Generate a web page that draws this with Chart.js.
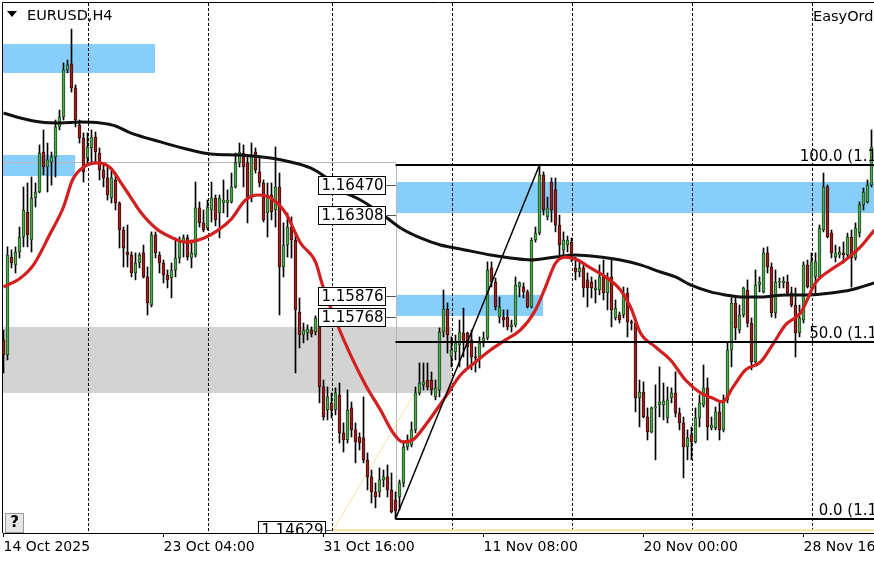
<!DOCTYPE html>
<html>
<head>
<meta charset="utf-8">
<script src="https://cdn.jsdelivr.net/npm/chart.js@4.4.1/dist/chart.umd.min.js"></script>
<style>
  html, body { margin: 0; padding: 0; background: #fff; overflow: hidden; }
  canvas { display: block; }
</style>
</head>
<body>
<canvas id="chart" width="874" height="562"></canvas>
<script>
// EURUSD H4 candles (one value per bar, left to right)
const opens = [
  1.15644, 1.15564, 1.16086, 1.16044, 1.16113, 1.16193, 1.16326, 1.16177, 1.16401, 1.16433,
  1.16646, 1.16566, 1.16593, 1.16620, 1.16780, 1.16833, 1.17084, 1.17116, 1.16988, 1.16790,
  1.16721, 1.16614, 1.16668, 1.16726, 1.16641, 1.16550, 1.16508, 1.16401, 1.16497, 1.16374,
  1.16230, 1.16113, 1.16097, 1.16001, 1.16054, 1.16108, 1.15980, 1.15830, 1.16204, 1.16097,
  1.16054, 1.15990, 1.15974, 1.16017, 1.16081, 1.16166, 1.16188, 1.16081, 1.16097, 1.16348,
  1.16268, 1.16241, 1.16337, 1.16401, 1.16321, 1.16374, 1.16374, 1.16380, 1.16460, 1.16588,
  1.16641, 1.16588, 1.16406, 1.16646, 1.16540, 1.16481, 1.16321, 1.16417, 1.16337, 1.16460,
  1.16033, 1.16150, 1.16246, 1.16177, 1.15793, 1.15670, 1.15681, 1.15697, 1.15686, 1.15761,
  1.15393, 1.15270, 1.15308, 1.15270, 1.15350, 1.15148, 1.15110, 1.15281, 1.15164, 1.15126,
  1.15121, 1.15004, 1.14913, 1.14833, 1.14833, 1.14897, 1.14913, 1.14844, 1.14790, 1.14806,
  1.14881, 1.15073, 1.15084, 1.15164, 1.15361, 1.15404, 1.15430, 1.15430, 1.15340, 1.15377,
  1.15686, 1.15809, 1.15553, 1.15580, 1.15617, 1.15681, 1.15681, 1.15644, 1.15553, 1.15553,
  1.15628, 1.15654, 1.16028, 1.15953, 1.15766, 1.15766, 1.15766, 1.15713, 1.15724, 1.15926,
  1.15926, 1.15900, 1.15820, 1.16177, 1.16214, 1.16524, 1.16300, 1.16486, 1.16444, 1.16257,
  1.16124, 1.16150, 1.16166, 1.16028, 1.16006, 1.16028, 1.15964, 1.15953, 1.15910, 1.15910,
  1.15980, 1.15894, 1.15980, 1.15761, 1.15777, 1.15777, 1.15894, 1.15740, 1.15734, 1.15334,
  1.15366, 1.15233, 1.15153, 1.15281, 1.15297, 1.15297, 1.15228, 1.15334, 1.15361, 1.15254,
  1.15201, 1.15073, 1.15137, 1.15100, 1.15228, 1.15297, 1.15388, 1.15174, 1.15174, 1.15260,
  1.15164, 1.15324, 1.15590, 1.15841, 1.15697, 1.15777, 1.15910, 1.15734, 1.15526, 1.15937,
  1.15900, 1.16108, 1.16033, 1.15788, 1.15953, 1.15948, 1.15953, 1.15894, 1.15830, 1.15681,
  1.15750, 1.16044, 1.15921, 1.15980, 1.15980, 1.16230, 1.16460, 1.16214, 1.16086, 1.16097,
  1.16108, 1.16097, 1.16193, 1.16081, 1.16214, 1.16364, 1.16380, 1.16470
];
const highs = [
  1.15697, 1.16140, 1.16124, 1.16140, 1.16246, 1.16460, 1.16481, 1.16513, 1.16481, 1.16684,
  1.16764, 1.16694, 1.16646, 1.16817, 1.16870, 1.17121, 1.17137, 1.17302, 1.17004, 1.16817,
  1.16748, 1.16748, 1.16764, 1.16753, 1.16668, 1.16588, 1.16566, 1.16561, 1.16534, 1.16380,
  1.16246, 1.16257, 1.16113, 1.16108, 1.16108, 1.16150, 1.16033, 1.16220, 1.16220, 1.16113,
  1.16070, 1.16017, 1.16054, 1.16188, 1.16193, 1.16204, 1.16204, 1.16177, 1.16486, 1.16380,
  1.16337, 1.16390, 1.16486, 1.16417, 1.16417, 1.16497, 1.16444, 1.16534, 1.16641, 1.16694,
  1.16684, 1.16620, 1.16694, 1.16668, 1.16620, 1.16497, 1.16481, 1.16481, 1.16673, 1.16534,
  1.16268, 1.16321, 1.16300, 1.16214, 1.15868, 1.15734, 1.15724, 1.15713, 1.15772, 1.15777,
  1.15430, 1.15393, 1.15361, 1.15388, 1.15414, 1.15201, 1.15377, 1.15313, 1.15201, 1.15148,
  1.15340, 1.15041, 1.14950, 1.14881, 1.14961, 1.14950, 1.14977, 1.14934, 1.14833, 1.14897,
  1.15094, 1.15137, 1.15206, 1.15393, 1.15521, 1.15521, 1.15521, 1.15473, 1.15430, 1.15708,
  1.15910, 1.15841, 1.15660, 1.15670, 1.15750, 1.15814, 1.15686, 1.15697, 1.15606, 1.15660,
  1.15686, 1.16060, 1.16060, 1.15974, 1.15873, 1.15804, 1.15804, 1.15750, 1.15980, 1.15953,
  1.15948, 1.15910, 1.16188, 1.16246, 1.16577, 1.16540, 1.16406, 1.16508, 1.16508, 1.16310,
  1.16220, 1.16198, 1.16188, 1.16086, 1.16070, 1.16054, 1.16001, 1.15980, 1.15964, 1.16044,
  1.16070, 1.16001, 1.16081, 1.15857, 1.15793, 1.15926, 1.15921, 1.15750, 1.15740, 1.15430,
  1.15420, 1.15281, 1.15286, 1.15404, 1.15500, 1.15414, 1.15393, 1.15388, 1.15473, 1.15281,
  1.15233, 1.15164, 1.15180, 1.15281, 1.15350, 1.15510, 1.15441, 1.15233, 1.15286, 1.15308,
  1.15350, 1.15628, 1.15868, 1.15868, 1.15830, 1.15926, 1.15964, 1.15761, 1.16017, 1.15980,
  1.16134, 1.16140, 1.16054, 1.16017, 1.15974, 1.15980, 1.15990, 1.15926, 1.15921, 1.15830,
  1.16060, 1.16070, 1.16108, 1.16108, 1.16257, 1.16534, 1.16470, 1.16230, 1.16150, 1.16140,
  1.16166, 1.16214, 1.16230, 1.16268, 1.16380, 1.16454, 1.16497, 1.16764
];
const lows = [
  1.15468, 1.15537, 1.16028, 1.16001, 1.16081, 1.16140, 1.16140, 1.16113, 1.16353, 1.16428,
  1.16524, 1.16433, 1.16470, 1.16513, 1.16764, 1.16817, 1.17068, 1.16966, 1.16780, 1.16694,
  1.16486, 1.16588, 1.16588, 1.16588, 1.16497, 1.16460, 1.16390, 1.16374, 1.16337, 1.16134,
  1.16033, 1.16033, 1.15980, 1.15964, 1.16028, 1.15974, 1.15777, 1.15820, 1.16081, 1.16001,
  1.15948, 1.15921, 1.15868, 1.15980, 1.16054, 1.16086, 1.16070, 1.16028, 1.16086, 1.16246,
  1.16220, 1.16230, 1.16273, 1.16252, 1.16188, 1.16321, 1.16300, 1.16374, 1.16454, 1.16566,
  1.16460, 1.16268, 1.16380, 1.16534, 1.16460, 1.16273, 1.16193, 1.16284, 1.16246, 1.15777,
  1.15980, 1.16086, 1.16081, 1.15468, 1.15601, 1.15628, 1.15644, 1.15660, 1.15670, 1.15308,
  1.15217, 1.15217, 1.15228, 1.15244, 1.15094, 1.15046, 1.15094, 1.15126, 1.14988, 1.15057,
  1.14988, 1.14844, 1.14774, 1.14748, 1.14806, 1.14860, 1.14806, 1.14721, 1.14689, 1.14737,
  1.14860, 1.15057, 1.15073, 1.15148, 1.15350, 1.15377, 1.15377, 1.15350, 1.15324, 1.15340,
  1.15660, 1.15574, 1.15500, 1.15537, 1.15500, 1.15553, 1.15500, 1.15484, 1.15473, 1.15494,
  1.15606, 1.15644, 1.15926, 1.15804, 1.15734, 1.15713, 1.15697, 1.15686, 1.15713, 1.15873,
  1.15868, 1.15814, 1.15814, 1.16166, 1.16204, 1.16310, 1.16284, 1.16273, 1.16220, 1.16097,
  1.16081, 1.16113, 1.16060, 1.15964, 1.15980, 1.15873, 1.15820, 1.15868, 1.15841, 1.15884,
  1.15857, 1.15804, 1.15713, 1.15750, 1.15734, 1.15761, 1.15660, 1.15697, 1.15260, 1.15180,
  1.15228, 1.15110, 1.15148, 1.15004, 1.15233, 1.15217, 1.15201, 1.15308, 1.15233, 1.15164,
  1.14908, 1.15004, 1.15004, 1.15094, 1.15180, 1.15286, 1.15110, 1.15164, 1.15164, 1.15110,
  1.15153, 1.15308, 1.15500, 1.15644, 1.15681, 1.15766, 1.15713, 1.15484, 1.15521, 1.15900,
  1.15894, 1.16001, 1.15766, 1.15761, 1.15921, 1.15921, 1.15884, 1.15820, 1.15553, 1.15660,
  1.15734, 1.15921, 1.15900, 1.15894, 1.15974, 1.16220, 1.16188, 1.16081, 1.16060, 1.16081,
  1.16054, 1.16086, 1.15926, 1.16070, 1.16193, 1.16337, 1.16374, 1.16460
];
const closes = [
  1.15564, 1.16097, 1.16054, 1.16113, 1.16193, 1.16337, 1.16204, 1.16401, 1.16433, 1.16641,
  1.16566, 1.16604, 1.16620, 1.16780, 1.16833, 1.17084, 1.17110, 1.16988, 1.16817, 1.16721,
  1.16540, 1.16673, 1.16726, 1.16646, 1.16550, 1.16508, 1.16417, 1.16508, 1.16374, 1.16230,
  1.16134, 1.16097, 1.16001, 1.16054, 1.16097, 1.15980, 1.15841, 1.16204, 1.16108, 1.16054,
  1.15990, 1.15964, 1.16017, 1.16081, 1.16177, 1.16188, 1.16086, 1.16108, 1.16348, 1.16268,
  1.16230, 1.16353, 1.16401, 1.16284, 1.16401, 1.16390, 1.16390, 1.16460, 1.16588, 1.16646,
  1.16566, 1.16406, 1.16620, 1.16550, 1.16481, 1.16284, 1.16417, 1.16326, 1.16460, 1.16033,
  1.16150, 1.16246, 1.16177, 1.15804, 1.15670, 1.15697, 1.15702, 1.15676, 1.15761, 1.15393,
  1.15233, 1.15340, 1.15270, 1.15361, 1.15148, 1.15110, 1.15270, 1.15164, 1.15100, 1.15094,
  1.15004, 1.14913, 1.14833, 1.14806, 1.14897, 1.14913, 1.14844, 1.14726, 1.14732, 1.14881,
  1.15073, 1.15100, 1.15164, 1.15361, 1.15414, 1.15420, 1.15393, 1.15377, 1.15388, 1.15686,
  1.15809, 1.15670, 1.15590, 1.15628, 1.15686, 1.15628, 1.15606, 1.15553, 1.15548, 1.15628,
  1.15654, 1.16017, 1.15953, 1.15820, 1.15820, 1.15750, 1.15713, 1.15724, 1.15937, 1.15948,
  1.15900, 1.15820, 1.16177, 1.16214, 1.16524, 1.16337, 1.16348, 1.16337, 1.16257, 1.16150,
  1.16177, 1.16177, 1.16086, 1.16006, 1.16028, 1.15921, 1.15921, 1.15921, 1.15921, 1.15980,
  1.15894, 1.15980, 1.15804, 1.15814, 1.15750, 1.15894, 1.15740, 1.15734, 1.15334, 1.15366,
  1.15233, 1.15153, 1.15281, 1.15286, 1.15313, 1.15318, 1.15324, 1.15361, 1.15254, 1.15201,
  1.15073, 1.15121, 1.15100, 1.15228, 1.15308, 1.15388, 1.15180, 1.15190, 1.15260, 1.15164,
  1.15324, 1.15590, 1.15841, 1.15708, 1.15777, 1.15921, 1.15734, 1.15526, 1.15937, 1.15953,
  1.16108, 1.16033, 1.15788, 1.15953, 1.15958, 1.15958, 1.15894, 1.15830, 1.15681, 1.15761,
  1.16044, 1.15926, 1.16060, 1.16060, 1.16241, 1.16460, 1.16193, 1.16108, 1.16108, 1.16113,
  1.16097, 1.16193, 1.16081, 1.16241, 1.16364, 1.16433, 1.16470, 1.16673
];

// Moving averages, read at sparse bars
const fastMaIdx = [0, 4.25, 7.5, 11.75, 15, 17.25, 20, 23.5, 26.75, 29.25, 31.75, 34.25, 38, 41.75,
  45.5, 48, 51.75, 56.75, 60.5, 63.75, 66.75, 70.5, 74.25, 78, 79.75, 83, 86.75, 90.5, 94.25, 97.25,
  99.75, 102.25, 105.5, 110.5, 114.25, 118, 121.75, 125.5, 129.25, 133, 135.5, 138, 140.5, 143.5,
  146.75, 150.5, 154.25, 156.75, 159.25, 163, 166.75, 170.5, 174.25, 177.25, 179.75, 182.25, 185.5,
  189.25, 192.25, 195.5, 199.25, 203, 206.75, 210.5, 214.25, 217.75];
const fastMaVals = [1.15926, 1.15974, 1.16044, 1.16214, 1.16353, 1.16497, 1.16566, 1.16588, 1.16561,
  1.16486, 1.16406, 1.16326, 1.16241, 1.16193, 1.16166, 1.16172, 1.16204, 1.16284, 1.16390, 1.16417,
  1.16401, 1.16321, 1.16161, 1.16060, 1.15937, 1.15750, 1.15564, 1.15404, 1.15270, 1.15153, 1.15100,
  1.15110, 1.15190, 1.15340, 1.15457, 1.15526, 1.15590, 1.15644, 1.15697, 1.15804, 1.15926, 1.16054,
  1.16086, 1.16070, 1.16028, 1.15980, 1.15910, 1.15820, 1.15681, 1.15606, 1.15537, 1.15430, 1.15361,
  1.15334, 1.15313, 1.15388, 1.15484, 1.15526, 1.15617, 1.15724, 1.15788, 1.15948, 1.16017, 1.16070,
  1.16140, 1.16230];
const slowMaIdx = [0, 4.25, 9.25, 14.25, 19.25, 24.25, 28, 31.75, 39.25, 46.75, 51.75, 59.25, 66.75,
  71.75, 76.75, 80.5, 84.25, 89.25, 94.25, 99.25, 104.25, 109.25, 114.25, 121.75, 126.75, 131.75, 138,
  143, 149.25, 154.25, 159.25, 164.25, 168, 171.75, 176.75, 180.5, 184.25, 189.25, 195.5, 201.75,
  206.75, 211.75, 217.75];
const slowMaVals = [1.16854, 1.16828, 1.16806, 1.16801, 1.16806, 1.16801, 1.16785, 1.16748, 1.16700,
  1.16657, 1.16636, 1.16630, 1.16614, 1.16593, 1.16561, 1.16513, 1.16444, 1.16390, 1.16321, 1.16241,
  1.16188, 1.16150, 1.16129, 1.16097, 1.16081, 1.16070, 1.16086, 1.16097, 1.16086, 1.16070, 1.16044,
  1.16006, 1.15980, 1.15937, 1.15900, 1.15884, 1.15873, 1.15873, 1.15884, 1.15884, 1.15894, 1.15910,
  1.15948];

// Time axis
const tickIdx = [0, 40, 80, 120, 160, 200];
const tickLabels = ['14 Oct 2025', '23 Oct 04:00', '31 Oct 16:00', '11 Nov 08:00', '20 Nov 00:00', '28 Nov 16:00'];
const gridIdx = [21, 51, 82, 112, 142, 172, 202];

// Rectangles drawn on the chart (bar index span, price span)
const zoneFrom = [-1, -1, 98.1, 98.1, -1];
const zoneTo = [37.9, 17.9, 240, 134.9, 112.1];
const zoneHigh = [1.17222, 1.16630, 1.16486, 1.15884, 1.15713];
const zoneLow = [1.17068, 1.16518, 1.16321, 1.15772, 1.15361];
const zoneKind = ['blue', 'blue', 'blue', 'blue', 'gray'];

// Price labels
const labelPrices = [1.16470, 1.16308, 1.15876, 1.15768, 1.14629];
const labelFrom = [78.6, 78.6, 78.6, 78.6, 63.6];
const labelLineTo = [98.1, 98.1, 98.1, 98.1, 82.4];

// Fibonacci from the low bar to the high bar
const fibLowIdx = 98;
const fibHighIdx = 134;
const fibLevels = [100, 50, 0];
const refLinePrice = 1.16593;
const yellowEndIdx = 104;
const yellowEndPrice = 1.15404;

const barIdx = opens.map((v, i) => i);
const isBull = barIdx.map(i => closes[i] >= opens[i]);

const drawings = {
  id: 'drawings',
  beforeDatasetsDraw(chart) {
    const { ctx, chartArea: a, scales: { x, y } } = chart;
    ctx.save();
    ctx.beginPath();
    ctx.rect(a.left, a.top, a.right - a.left, a.bottom - a.top);
    ctx.clip();

    // zones
    for (let k = 0; k < zoneFrom.length; k++) {
      const x0 = x.getPixelForValue(zoneFrom[k]);
      const x1 = x.getPixelForValue(zoneTo[k]);
      const y0 = y.getPixelForValue(zoneHigh[k]);
      const y1 = y.getPixelForValue(zoneLow[k]);
      ctx.fillStyle = zoneKind[k] === 'blue' ? '#87cefa' : '#d3d3d3';
      ctx.fillRect(x0, y0, x1 - x0, y1 - y0);
    }

    // dashed vertical grid
    ctx.strokeStyle = '#000';
    ctx.lineWidth = 1;
    ctx.setLineDash([3, 2]);
    gridIdx.forEach(g => {
      const px = Math.round(x.getPixelForValue(g)) + 0.5;
      ctx.beginPath();
      ctx.moveTo(px, a.top);
      ctx.lineTo(px, a.bottom);
      ctx.stroke();
    });
    ctx.setLineDash([]);

    // thin gray reference lines
    ctx.strokeStyle = '#b8b8b8';
    const fx = Math.round(x.getPixelForValue(fibLowIdx + 0.1)) + 0.5;
    const ry = Math.round(y.getPixelForValue(refLinePrice)) + 0.5;
    ctx.beginPath();
    ctx.moveTo(a.left, ry);
    ctx.lineTo(fx, ry);
    ctx.moveTo(fx, y.getPixelForValue(highs[fibHighIdx]));
    ctx.lineTo(fx, y.getPixelForValue(lows[fibLowIdx]));
    ctx.stroke();

    // yellow trend line and level
    const yy = y.getPixelForValue(labelPrices[4]);
    const yx = x.getPixelForValue(labelLineTo[4]);
    ctx.strokeStyle = '#f2e2a0';
    ctx.lineWidth = 2;
    ctx.beginPath();
    ctx.moveTo(yx, yy);
    ctx.lineTo(a.right, yy);
    ctx.stroke();
    ctx.lineWidth = 1;
    ctx.beginPath();
    ctx.moveTo(yx, yy);
    ctx.lineTo(x.getPixelForValue(yellowEndIdx), y.getPixelForValue(yellowEndPrice));
    ctx.stroke();
    ctx.restore();
  },
  afterDatasetsDraw(chart) {
    const { ctx, chartArea: a, scales: { x, y } } = chart;
    ctx.save();
    ctx.beginPath();
    ctx.rect(a.left, a.top, a.right - a.left, a.bottom - a.top);
    ctx.clip();

    // fibonacci levels
    const hi = highs[fibHighIdx];
    const lo = lows[fibLowIdx];
    const x0 = x.getPixelForValue(fibLowIdx);
    ctx.strokeStyle = '#000';
    ctx.fillStyle = '#000';
    ctx.font = '15px "DejaVu Sans"';
    ctx.textAlign = 'right';
    ctx.textBaseline = 'alphabetic';
    fibLevels.forEach(lv => {
      const p = lo + (hi - lo) * lv / 100;
      const py = Math.round(y.getPixelForValue(p));
      ctx.lineWidth = 2;
      ctx.beginPath();
      ctx.moveTo(x0, py);
      ctx.lineTo(a.right, py);
      ctx.stroke();
      ctx.fillText(lv.toFixed(1) + ' (' + p.toFixed(5) + ')', x.getPixelForValue(229.4), py - 4);
    });

    // fib trend line
    ctx.lineWidth = 1.5;
    ctx.beginPath();
    ctx.moveTo(x0, y.getPixelForValue(lo));
    ctx.lineTo(x.getPixelForValue(fibHighIdx), y.getPixelForValue(hi));
    ctx.stroke();

    // price labels
    ctx.textAlign = 'center';
    ctx.textBaseline = 'middle';
    labelPrices.forEach((p, k) => {
      const py = Math.round(y.getPixelForValue(p)) + 0.5;
      const bx = Math.round(x.getPixelForValue(labelFrom[k])) + 0.5;
      ctx.strokeStyle = '#555';
      ctx.lineWidth = 1;
      ctx.beginPath();
      ctx.moveTo(bx + 67, py);
      ctx.lineTo(x.getPixelForValue(labelLineTo[k]), py);
      ctx.stroke();
      ctx.fillStyle = '#fff';
      ctx.fillRect(bx, py - 9, 67, 18);
      ctx.strokeStyle = '#000';
      ctx.strokeRect(bx, py - 9, 67, 18);
      ctx.fillStyle = '#000';
      ctx.fillText(p.toFixed(5), bx + 34, py + 1);
    });
    ctx.restore();
  },
  afterDraw(chart) {
    const { ctx, chartArea: a } = chart;
    ctx.save();
    // frame
    ctx.strokeStyle = '#000';
    ctx.lineWidth = 1;
    ctx.beginPath();
    ctx.moveTo(a.left - 0.5, a.bottom);
    ctx.lineTo(a.left - 0.5, a.top - 0.5);
    ctx.lineTo(a.right, a.top - 0.5);
    ctx.stroke();

    // symbol caption
    ctx.fillStyle = '#000';
    ctx.beginPath();
    ctx.moveTo(7, 11);
    ctx.lineTo(17, 11);
    ctx.lineTo(12, 17);
    ctx.closePath();
    ctx.fill();
    ctx.font = '14.5px "DejaVu Sans"';
    ctx.textAlign = 'left';
    ctx.textBaseline = 'middle';
    ctx.fillText('EURUSD,H4', 27, 16);
    ctx.fillText('EasyOrder', 813, 17);

    // help button
    ctx.fillStyle = '#e6e6e6';
    ctx.fillRect(5.5, 513.5, 18, 19);
    ctx.strokeStyle = '#9a9a9a';
    ctx.strokeRect(5.5, 513.5, 18, 19);
    ctx.fillStyle = '#000';
    ctx.font = 'bold 15px "DejaVu Sans"';
    ctx.textAlign = 'center';
    ctx.fillText('?', 14.5, 523.5);
    ctx.restore();
  }
};

new Chart(document.getElementById('chart'), {
  type: 'bar',
  data: {
    datasets: [
      {
        type: 'line',
        data: fastMaIdx.map((v, k) => ({ x: v, y: fastMaVals[k] })),
        borderColor: '#d21f1f',
        borderWidth: 3.2,
        pointRadius: 0,
        cubicInterpolationMode: 'monotone'
      },
      {
        type: 'line',
        data: slowMaIdx.map((v, k) => ({ x: v, y: slowMaVals[k] })),
        borderColor: '#111',
        borderWidth: 3,
        pointRadius: 0,
        cubicInterpolationMode: 'monotone'
      },
      {
        data: barIdx.map(i => ({ x: i, y: [opens[i], closes[i]] })),
        backgroundColor: isBull.map(b => b ? '#52a852' : '#a01f1f'),
        borderColor: isBull.map(b => b ? '#1d4a1d' : '#3d0b0b'),
        borderWidth: 1,
        borderSkipped: false,
        barThickness: 3,
        minBarLength: 1,
        grouped: false
      },
      {
        data: barIdx.map(i => ({ x: i, y: [lows[i], highs[i]] })),
        backgroundColor: '#000',
        barThickness: 1,
        grouped: false
      }
    ]
  },
  options: {
    responsive: false,
    animation: false,
    layout: { padding: { left: 3, top: 3, right: 0, bottom: 0 } },
    plugins: { legend: { display: false }, tooltip: { enabled: false } },
    scales: {
      x: {
        type: 'linear',
        offset: false,
        min: -0.125,
        max: 217.625,
        afterBuildTicks: s => { s.ticks = tickIdx.map(v => ({ value: v })); },
        afterFit: s => { s.height = 29; s.paddingLeft = 0; s.paddingRight = 0; },
        grid: { display: true, drawOnChartArea: false, drawTicks: true, tickLength: 4, color: '#000', offset: false },
        border: { display: true, color: '#000', width: 1 },
        ticks: {
          autoSkip: false,
          maxRotation: 0,
          align: 'start',
          padding: 2,
          color: '#000',
          font: { family: 'DejaVu Sans', size: 14 },
          callback: v => tickLabels[tickIdx.indexOf(v)]
        }
      },
      y: {
        display: false,
        min: 1.14614,
        max: 1.17441
      }
    }
  },
  plugins: [drawings]
});
</script>
</body>
</html>
